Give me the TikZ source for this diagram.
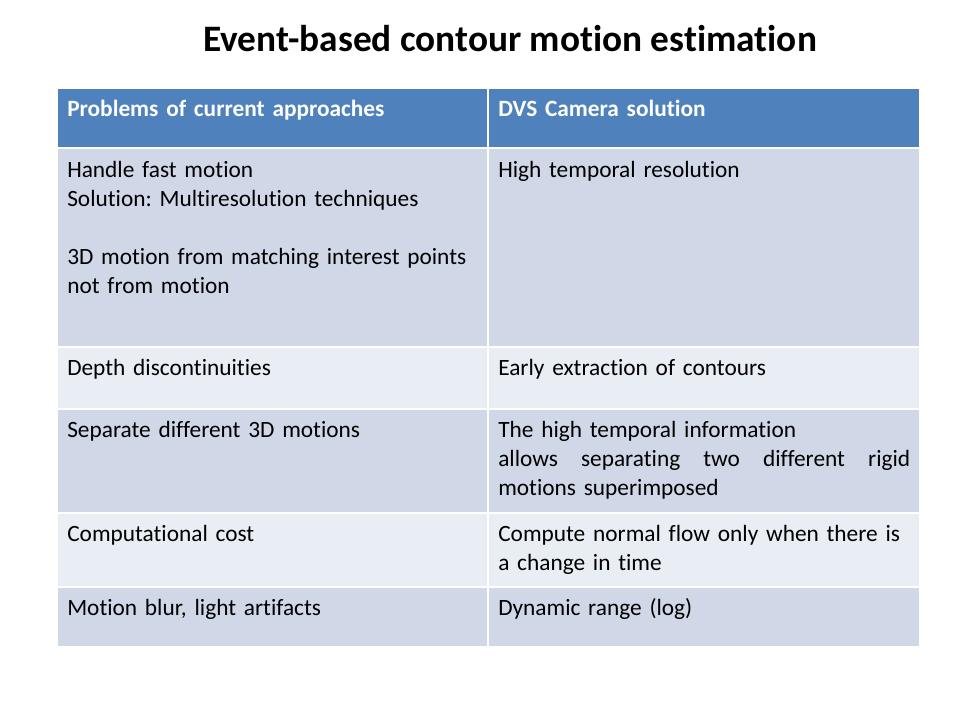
\documentclass[tikz,border=0pt]{standalone}
\usepackage{fontspec}
\setmainfont{Carlito}[Ligatures=NoCommon]
\definecolor{hdrblue}{HTML}{4F81BD}
\definecolor{rowdark}{HTML}{D0D8E8}
\definecolor{rowlight}{HTML}{E9EDF4}
\tikzset{cell/.style={draw=white,line width=0.8pt},
         txt/.style={anchor=north west,inner sep=0pt,text width=309pt,align=left,font=\fontsize{17.5}{21.75}\selectfont\frenchspacing},
         hdtxt/.style={txt,text=white,font=\fontsize{17.5}{21.75}\selectfont\bfseries}
}

\begin{document}
\begin{tikzpicture}[x=0.75pt,y=-0.75pt]
  \useasboundingbox (0,0) rectangle (960,720);
  \node[anchor=base,inner sep=0pt,font=\fontsize{28}{34}\selectfont\bfseries] (title) at (510,52) {Event-based contour motion estimation};

  % table cells
  \filldraw[cell,fill=hdrblue] (57,88) rectangle (488,148);
  \filldraw[cell,fill=hdrblue] (488,88) rectangle (920,148);
  \filldraw[cell,fill=rowdark] (57,148) rectangle (488,347);
  \filldraw[cell,fill=rowdark] (488,148) rectangle (920,347);
  \filldraw[cell,fill=rowlight] (57,347) rectangle (488,409);
  \filldraw[cell,fill=rowlight] (488,347) rectangle (920,409);
  \filldraw[cell,fill=rowdark] (57,409) rectangle (488,513);
  \filldraw[cell,fill=rowdark] (488,409) rectangle (920,513);
  \filldraw[cell,fill=rowlight] (57,513) rectangle (488,587);
  \filldraw[cell,fill=rowlight] (488,513) rectangle (920,587);
  \filldraw[cell,fill=rowdark] (57,587) rectangle (488,647);
  \filldraw[cell,fill=rowdark] (488,587) rectangle (920,647);

  \node[hdtxt] (h1) at (67,96) {\strut Problems of current approaches};
  \node[hdtxt] (h2) at (498,96) {\strut DVS Camera solution};

  \node[txt] (p1) at (67,157) {\strut Handle fast motion\\Solution: Multiresolution techniques\\~\\3D motion from matching interest points\\not from motion};
  \node[txt] (s1) at (498,157) {\strut High temporal resolution};
  \node[txt] (p2) at (67,355) {\strut Depth discontinuities};
  \node[txt] (s2) at (498,355) {\strut Early extraction of contours};
  \node[txt] (p3) at (67,417) {\strut Separate different 3D motions};
  \node[txt] (s3) at (498,417) {\strut The high temporal information\\allows\hfill separating\hfill two\hfill different\hfill rigid\\motions superimposed};
  \node[txt] (p4) at (67,521) {\strut Computational cost};
  \node[txt] (s4) at (498,521) {\strut Compute normal flow only when there is\\a change in time};
  \node[txt] (p5) at (67,595) {\strut Motion blur, light artifacts};
  \node[txt] (s5) at (498,595) {\strut Dynamic range (log)};
\end{tikzpicture}
\end{document}
